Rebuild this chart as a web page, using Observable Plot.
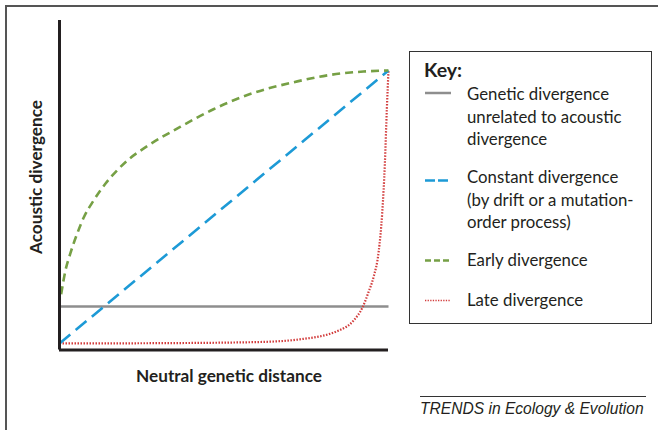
<!DOCTYPE html>
<html>
<head>
<meta charset="utf-8">
<script src="https://cdn.jsdelivr.net/npm/d3@7"></script>
<script src="https://cdn.jsdelivr.net/npm/@observablehq/plot@0.6"></script>
<style>
  body { margin: 0; background: #fff; }
  #wrap { position: relative; width: 658px; height: 430px; overflow: hidden; background: #fff; font-family: Lato, "Open Sans", sans-serif; color: #231f20; }
  #frame { position: absolute; left: 5px; top: 5px; width: 700px; height: 500px; border-top: 2px solid #555; border-left: 2px solid #555; }
  #chart { position: absolute; left: 0; top: 0; }
  .axlabel { position: absolute; font-weight: bold; font-size: 17.2px; white-space: nowrap; }
  #ylab { left: 35px; top: 177px; transform: translate(-50%, -50%) rotate(-90deg); }
  #xlab { left: 229px; top: 375px; transform: translate(-50%, -50%); }
  #key { position: absolute; left: 409px; top: 51px; width: 243px; height: 273px; border: 1.5px solid #333; box-sizing: border-box; }
  .ktext { position: absolute; left: 57px; font-size: 16.8px; line-height: 22.7px; white-space: nowrap; }
  #keytitle { position: absolute; left: 14px; top: 6px; font-weight: bold; font-size: 19.5px; }
  #keysw { position: absolute; left: 0; top: 0; }
  #credit { position: absolute; left: 420px; top: 396px; width: 226px; border-top: 1px solid #333; font-family: "Liberation Sans", Arial, sans-serif; font-style: italic; font-size: 15.6px; padding-top: 3px; white-space: nowrap; }
</style>
</head>
<body>
<div id="wrap">
  <div id="frame"></div>
  <div id="chart"></div>
  <div class="axlabel" id="ylab"></div>
  <div class="axlabel" id="xlab"></div>
  <div id="key"></div>
  <div id="credit"></div>
</div>
<script>
// ---- Data (arbitrary units 0..100) ----
const xLabel = "Neutral genetic distance";
const yLabel = "Acoustic divergence";
const keyTitle = "Key:";
const creditText = "TRENDS in Ecology & Evolution";

const seriesNames = [
  "Genetic divergence\nunrelated to acoustic\ndivergence",
  "Constant divergence\n(by drift or a mutation-\norder process)",
  "Early divergence",
  "Late divergence"
];
const seriesColors = ["#8e8e8e", "#1d9ad6", "#76a045", "#d23c3c"];

const xDomain = [0, 100];
const yDomain = [-2.4, 118.3];

const unrelatedX = [0, 100];
const unrelatedY = [13.5, 13.5];

const constantX = [0, 100];
const constantY = [0, 100];

const earlyX = [0.5, 1.8, 3.3, 5.4, 7.4, 10.4, 14.0, 17.5, 20.6, 26.7, 36.8, 46.8, 57.1, 72.3, 82.4, 92.4, 100];
const earlyY = [18, 26.7, 33, 40.3, 46.2, 52.4, 58.6, 63.4, 67.0, 72.3, 79.4, 85.8, 91.0, 96.0, 98.4, 99.6, 100];

const lateX = [0, 30, 60, 73, 85, 89.4, 92.1, 93.9, 95.5, 97, 98.1, 98.9, 99.5, 100];
const lateY = [0, 0.1, 0.5, 1.5, 4.8, 8.4, 13.2, 18.7, 24.5, 33.5, 48, 66, 86, 100];

const toRows = (xs, ys) => xs.map((x, i) => ({x, y: ys[i]}));

const chart = Plot.plot({
  width: 658,
  height: 430,
  marginLeft: 59,
  marginRight: 270,
  marginTop: 20,
  marginBottom: 80.5,
  x: {domain: xDomain, axis: null},
  y: {domain: yDomain, axis: null},
  marks: [
    Plot.line(toRows(unrelatedX, unrelatedY), {x: "x", y: "y", stroke: seriesColors[0], strokeWidth: 2.5, strokeLinecap: "butt"}),
    Plot.line(toRows(lateX, lateY), {x: "x", y: "y", curve: "monotone-x", stroke: seriesColors[3], strokeWidth: 2.2, strokeDasharray: "1.5,1.5", strokeLinecap: "butt"}),
    Plot.line(toRows(constantX, constantY), {x: "x", y: "y", stroke: seriesColors[1], strokeWidth: 2.6, strokeDasharray: "14,7", strokeLinecap: "butt"}),
    Plot.line(toRows(earlyX, earlyY), {x: "x", y: "y", curve: "monotone-x", stroke: seriesColors[2], strokeWidth: 2.6, strokeDasharray: "8,5", strokeLinecap: "butt"}),
    Plot.ruleX([xDomain[0]], {y1: yDomain[0], y2: yDomain[1], stroke: "#231f20", strokeWidth: 3}),
    Plot.ruleY([yDomain[0]], {x1: xDomain[0], x2: xDomain[1], stroke: "#231f20", strokeWidth: 3})
  ]
});
document.getElementById("chart").appendChild(chart);

document.getElementById("ylab").textContent = yLabel;
document.getElementById("xlab").textContent = xLabel;
document.getElementById("credit").textContent = creditText;

// ---- Key ----
const key = document.getElementById("key");
const kt = document.createElement("div");
kt.id = "keytitle"; kt.textContent = keyTitle; key.appendChild(kt);
const entryTops = [31, 114, 197, 237];
const swatchY = [41, 128.5, 208.5, 248.5];
const dashes = [null, "10,3", "6,3", "1.3,1.3"];
const widths = [2.5, 2.6, 2.6, 1.6];
const ns = "http://www.w3.org/2000/svg";
const sw = document.createElementNS(ns, "svg");
sw.setAttribute("id", "keysw"); sw.setAttribute("width", 240); sw.setAttribute("height", 270);
seriesNames.forEach((name, i) => {
  const d = document.createElement("div");
  d.className = "ktext";
  d.style.top = entryTops[i] + "px";
  d.innerHTML = name.split("\n").map(s => s.replace(/&/g, "&amp;")).join("<br>");
  key.appendChild(d);
  const l = document.createElementNS(ns, "line");
  l.setAttribute("x1", 15); l.setAttribute("x2", 41);
  l.setAttribute("y1", swatchY[i]); l.setAttribute("y2", swatchY[i]);
  l.setAttribute("stroke", seriesColors[i]);
  l.setAttribute("stroke-width", widths[i]);
  if (dashes[i]) l.setAttribute("stroke-dasharray", dashes[i]);
  sw.appendChild(l);
});
key.appendChild(sw);
</script>
</body>
</html>
